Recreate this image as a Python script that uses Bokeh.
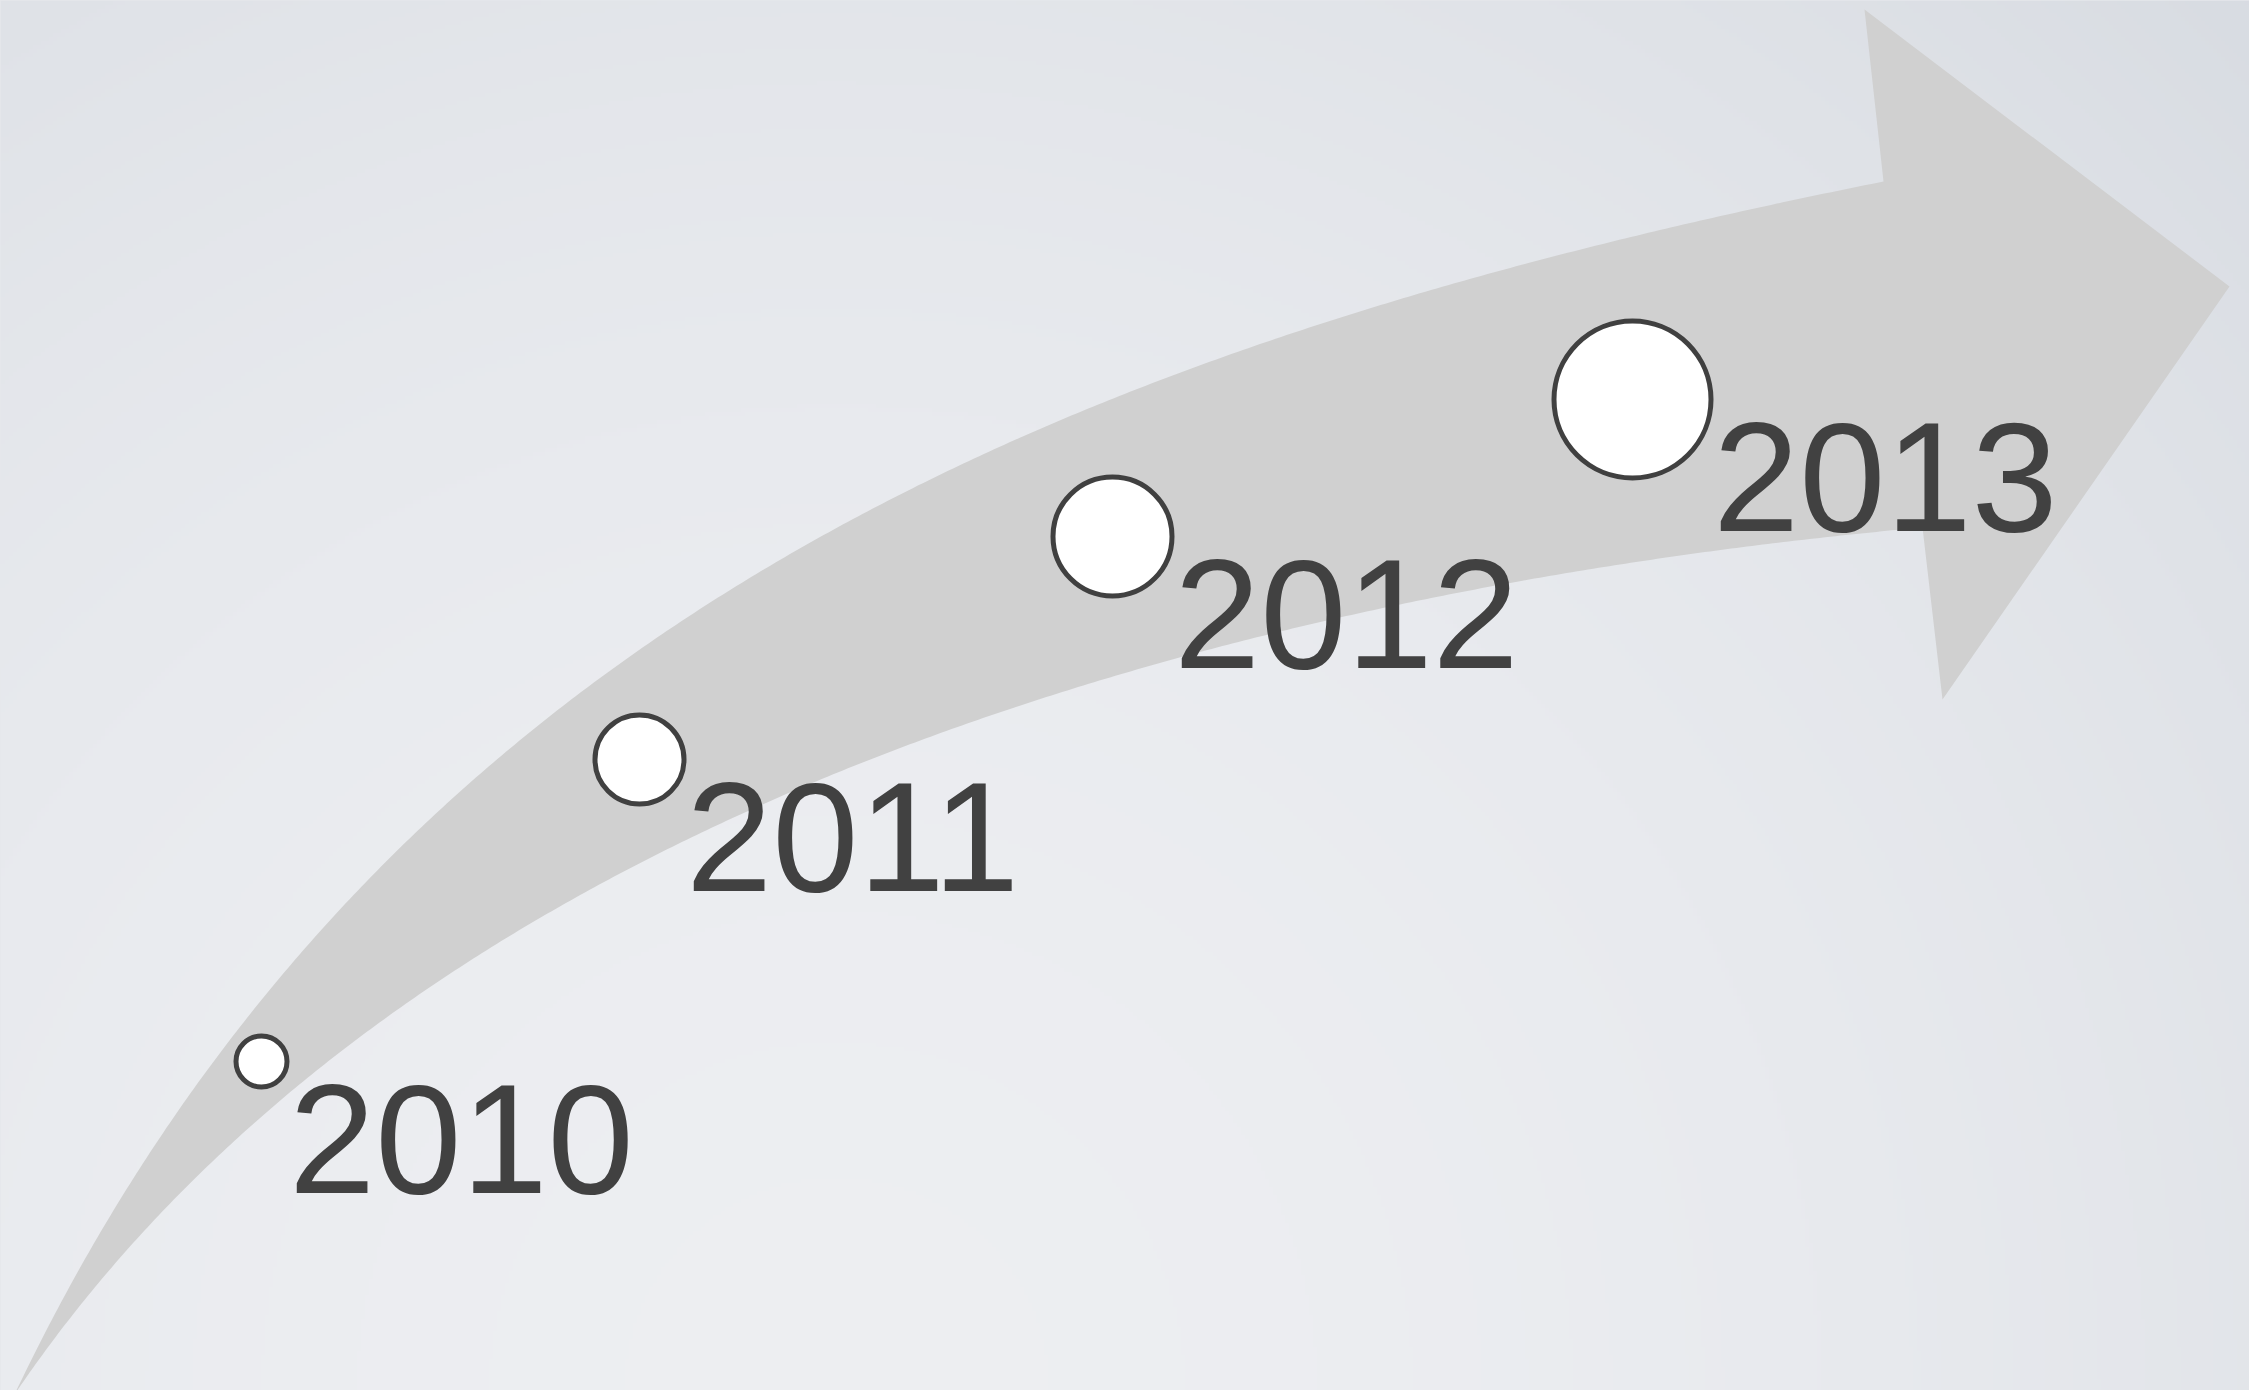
import numpy as np
from bokeh.plotting import figure
from bokeh.models import Range1d, ColumnDataSource
from bokeh.core.properties import value
from bokeh.embed import file_html
from bokeh.resources import INLINE

# ---------------- data ----------------
years = ["2010", "2011", "2012", "2013"]
x_vals = [261, 639, 1112, 1632]          # horizontal position of each milestone
y_vals = [329, 631, 854, 991]            # vertical position (upwards)
bubble_sizes = [51, 89, 119, 157]        # bubble diameter

# decorative arrow outline, image-style coordinates (y downwards)
H = 1390
W = 2249
arrow_upper_x = [14, 261, 500, 700, 879, 1057, 1236, 1400, 1883]
arrow_upper_y = [1394, 1008, 749, 608, 507, 418, 353, 300, 181]
arrow_lower_x = [14, 286, 500, 700, 879, 1057, 1236, 1400, 1500, 1922]
arrow_lower_y = [1394, 1087, 950, 831, 750, 697, 645, 603, 581, 527]
arrow_head_x = [1883, 1864, 2229, 1942, 1922]
arrow_head_y = [181, 9, 286, 699, 527]


def bez(P0, P1, P2, P3, t):
    t = np.asarray(t)[:, None]
    return ((1 - t) ** 3) * P0 + 3 * t * (1 - t) ** 2 * P1 + 3 * t**2 * (1 - t) * P2 + t**3 * P3


def fit_cubic(px, py, iters=25):
    P = np.column_stack([px, py]).astype(float)
    P0, P3 = P[0], P[-1]
    d = np.r_[0, np.cumsum(np.hypot(*np.diff(P, axis=0).T))]
    t = d / d[-1]
    tt = np.linspace(0, 1, 4001)
    P1 = P2 = None
    for _ in range(iters):
        b0 = (1 - t) ** 3
        b1 = 3 * t * (1 - t) ** 2
        b2 = 3 * t**2 * (1 - t)
        b3 = t**3
        A = np.column_stack([b1, b2])
        R = P - np.outer(b0, P0) - np.outer(b3, P3)
        sol = np.linalg.lstsq(A, R, rcond=None)[0]
        P1, P2 = sol[0], sol[1]
        C = bez(P0, P1, P2, P3, tt)
        for i in range(1, len(P) - 1):
            t[i] = tt[np.argmin(((C - P[i]) ** 2).sum(1))]
    return bez(P0, P1, P2, P3, np.linspace(0, 1, 400))


up = fit_cubic(arrow_upper_x, arrow_upper_y)
lo = fit_cubic(arrow_lower_x, arrow_lower_y)

poly_x = list(up[:, 0]) + arrow_head_x[1:4] + list(lo[::-1, 0])
poly_y_img = list(up[:, 1]) + arrow_head_y[1:4] + list(lo[::-1, 1])
poly_y = [H - v for v in poly_y_img]

# ---------------- background gradient ----------------
nx, ny = 562, 348
gx = (np.arange(nx) + 0.5) * W / nx
gy_up = (np.arange(ny) + 0.5) * H / ny
X, Yup = np.meshgrid(gx, gy_up)
Yimg = H - Yup
dist = np.sqrt((X - 1100) ** 2 + (Yimg - 1390) ** 2) / 1800.0
delta = 17.5 * dist**2 + 6.4 * X / W
rgba = np.zeros((ny, nx, 4), dtype=np.uint8)
rgba[..., 0] = np.clip(240 - delta, 0, 255)
rgba[..., 1] = np.clip(241 - 0.88 * delta, 0, 255)
rgba[..., 2] = np.clip(244 - 0.75 * delta, 0, 255)
rgba[..., 3] = 255
img = rgba.view(dtype=np.uint32).reshape((ny, nx))

# ---------------- figure ----------------
p = figure(width=W, height=H, x_range=Range1d(0, W), y_range=Range1d(0, H),
           output_backend="svg", toolbar_location=None, min_border=0)
p.axis.visible = False
p.grid.visible = False
p.outline_line_color = None
p.background_fill_color = "#e6e8ec"
p.border_fill_color = "#e6e8ec"

p.image_rgba(image=[img], x=0, y=0, dw=W, dh=H)
p.patch(poly_x, poly_y, fill_color="#d0d0d0", line_color=None)

line_w = 5
src = ColumnDataSource(dict(
    x=x_vals,
    y=y_vals,
    size=bubble_sizes,
    label=years,
    tx=[xv + s / 2 + 2 for xv, s in zip(x_vals, bubble_sizes)],
    ty=[yv - 77 for yv in y_vals],
))
p.scatter("x", "y", size="size", source=src, marker="circle",
          fill_color="white", line_color="#404040", line_width=line_w)
p.text("tx", "ty", text="label", source=src, text_font=value("Liberation Sans"),
       text_font_size="155px", text_color="#414141", text_baseline="alphabetic",
       text_align="left")

template = """
{% block preamble %}
<style>html, body { background-color: #e6e8ec; overflow: hidden; }</style>
{% endblock %}
"""
open("out.html", "w").write(file_html(p, INLINE, template=template))
